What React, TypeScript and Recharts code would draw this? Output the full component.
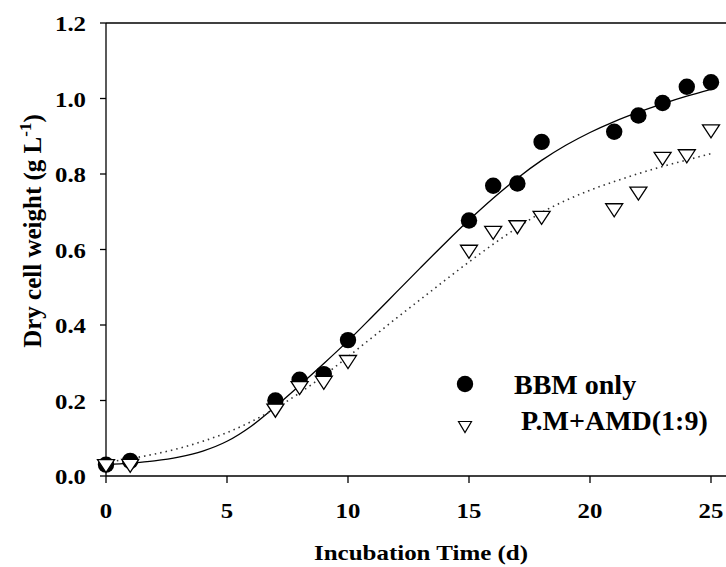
import React from 'react';
import { ComposedChart, Scatter, Line, XAxis, YAxis, ReferenceLine } from 'recharts';

const days = [0, 1, 7, 8, 9, 10, 15, 16, 17, 18, 21, 22, 23, 24, 25];
const bbmOnly = [0.03, 0.04, 0.2, 0.255, 0.27, 0.36, 0.677, 0.769, 0.775, 0.885, 0.912, 0.955, 0.988, 1.031, 1.043];
const pmAmd = [0.026, 0.027, 0.173, 0.233, 0.247, 0.302, 0.594, 0.644, 0.659, 0.684, 0.704, 0.748, 0.84, 0.847, 0.913];

const fitDays = [0, 1, 2, 3, 4, 5, 6, 7, 8, 9, 10, 11, 12, 13, 14, 15, 16, 17, 18, 19, 20, 21, 22, 23, 24, 25];
const fitBBM = [0.03, 0.034, 0.04, 0.05, 0.066, 0.092, 0.132, 0.184, 0.24, 0.298, 0.358, 0.422, 0.487, 0.552, 0.616, 0.678, 0.736, 0.789, 0.836, 0.876, 0.91, 0.939, 0.964, 0.986, 1.006, 1.024];
const fitPM = [0.036, 0.046, 0.058, 0.073, 0.092, 0.115, 0.144, 0.179, 0.22, 0.266, 0.316, 0.367, 0.418, 0.468, 0.518, 0.567, 0.614, 0.658, 0.698, 0.73, 0.757, 0.78, 0.801, 0.82, 0.837, 0.854];

const xTicks = [0, 5, 10, 15, 20, 25];
const yTicks = [0, 0.2, 0.4, 0.6, 0.8, 1.0, 1.2];

const seriesNames = ['BBM only', 'P.M+AMD(1:9)'];

const FONT = "'Liberation Serif', 'Times New Roman', serif";

const bbmData = days.map((d, i) => ({ x: d, y: bbmOnly[i] }));
const pmData = days.map((d, i) => ({ x: d, y: pmAmd[i] }));
const fitBBMData = fitDays.map((d, i) => ({ x: d, y: fitBBM[i] }));
const fitPMData = fitDays.map((d, i) => ({ x: d, y: fitPM[i] }));

const CircleShape = (props: any) => {
  const { cx, cy } = props;
  if (cx == null || cy == null) return null;
  return <circle cx={cx} cy={cy} r={8.2} fill="#000" />;
};

const TriangleShape = (props: any) => {
  const { cx, cy } = props;
  if (cx == null || cy == null) return null;
  const pts = `${cx - 8.5},${cy - 6.5} ${cx + 8.5},${cy - 6.5} ${cx},${cy + 6.5}`;
  return <polygon points={pts} fill="#fff" stroke="#000" strokeWidth={1.3} />;
};

const XTick = (props: any) => {
  const { x, y, payload } = props;
  return (
    <text
      transform={`translate(${x},${y + 16}) scale(1.18,1)`}
      textAnchor="middle"
      fontFamily={FONT}
      fontWeight="bold"
      fontSize={21}
      fill="#000"
    >
      {payload.value}
    </text>
  );
};

const YTick = (props: any) => {
  const { x, y, payload } = props;
  return (
    <text
      transform={`translate(${x},${y + 8}) scale(1.18,1)`}
      textAnchor="end"
      fontFamily={FONT}
      fontWeight="bold"
      fontSize={21}
      fill="#000"
    >
      {Number(payload.value).toFixed(1)}
    </text>
  );
};

export default function App() {
  return (
    <div style={{ position: 'absolute', left: 0, top: 0, width: 726, height: 567, background: '#fff' }}>
      <ComposedChart width={726} height={567} margin={{ top: 23, right: 0, bottom: 0, left: 0 }}>
        <XAxis
          type="number"
          dataKey="x"
          domain={[0, 25.62]}
          ticks={xTicks}
          height={91}
          tickSize={7}
          tickMargin={19}
          stroke="#000"
          strokeWidth={1.3}
          tick={<XTick />}
        />
        <YAxis
          type="number"
          dataKey="y"
          domain={[0, 1.2]}
          ticks={yTicks}
          width={106}
          tickSize={6}
          tickMargin={14}
          stroke="#000"
          strokeWidth={1.3}
          tick={<YTick />}
        />
        <ReferenceLine y={1.2} stroke="#000" strokeWidth={1.3} />
        <Scatter name={seriesNames[0]} data={bbmData} dataKey="y" shape={CircleShape} isAnimationActive={false} />
        <Scatter name={seriesNames[1]} data={pmData} dataKey="y" shape={TriangleShape} isAnimationActive={false} />
        <Line
          data={fitBBMData}
          dataKey="y"
          type="monotone"
          stroke="#000"
          strokeWidth={1.3}
          dot={false}
          activeDot={false}
          isAnimationActive={false}
          legendType="none"
        />
        <Line
          data={fitPMData}
          dataKey="y"
          type="monotone"
          stroke="#333"
          strokeWidth={1.6}
          strokeDasharray="1.5 4"
          dot={false}
          activeDot={false}
          isAnimationActive={false}
          legendType="none"
        />
      </ComposedChart>
      <svg
        width={726}
        height={567}
        style={{ position: 'absolute', left: 0, top: 0, pointerEvents: 'none' }}
      >
        <text
          x={421}
          y={560}
          textAnchor="middle"
          fontFamily={FONT}
          fontWeight="bold"
          fontSize={21}
          textLength={214}
          lengthAdjust="spacingAndGlyphs"
          fill="#000"
        >
          Incubation Time (d)
        </text>
        <text
          transform="translate(41,231) rotate(-90)"
          textAnchor="middle"
          fontFamily={FONT}
          fontWeight="bold"
          fontSize={25}
          fill="#000"
        >
          Dry cell weight (g L
          <tspan fontSize={17} dy={-10}>-1</tspan>
          <tspan dy={10}>)</tspan>
        </text>
        <circle cx={465} cy={384} r={8.2} fill="#000" />
        <text x={514} y={394} fontFamily={FONT} fontWeight="bold" fontSize={28} fill="#000">
          {seriesNames[0]}
        </text>
        <polygon points="458.5,421.5 471.5,421.5 465,432.5" fill="#fff" stroke="#000" strokeWidth={1.2} />
        <text x={521} y={430} fontFamily={FONT} fontWeight="bold" fontSize={28} fill="#000">
          {seriesNames[1]}
        </text>
      </svg>
    </div>
  );
}
